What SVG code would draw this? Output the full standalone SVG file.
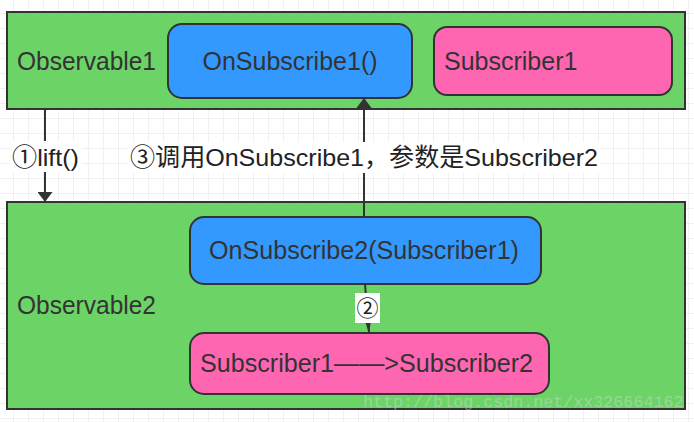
<svg xmlns="http://www.w3.org/2000/svg" width="694" height="422" viewBox="0 0 694 422">
  <defs>
    <pattern id="grid" x="-1" y="-1" width="15" height="15" patternUnits="userSpaceOnUse">
      <path d="M15 0 V15 M0 15 H15" fill="none" stroke="#e3e3e3" stroke-width="1"/>
    </pattern>
    <marker id="arrowBig" viewBox="0 0 10 15" refX="10" refY="7.5" markerWidth="10" markerHeight="15" markerUnits="userSpaceOnUse" orient="auto">
      <path d="M0 0 L10 7.5 L0 15 Z" fill="#333333"/>
    </marker>
    <marker id="arrowSmall" viewBox="0 0 12 6" refX="12" refY="3" markerWidth="12" markerHeight="6" markerUnits="userSpaceOnUse" orient="auto">
      <path d="M0 0 L12 3 L0 6 Z" fill="#333333"/>
    </marker>
  </defs>
  <style>
    .container { fill: #6cd466; stroke: #333333; stroke-width: 2; }
    .blue { fill: #3399ff; stroke: #333333; stroke-width: 2; }
    .pink { fill: #ff66b2; stroke: #333333; stroke-width: 2; }
    .t { font-family: "Liberation Sans", Arial, "Noto Sans CJK SC", sans-serif; font-size: 25px; fill: #333333; }
    .cjk { font-family: "Liberation Sans", Arial, "Noto Sans CJK SC", sans-serif; font-size: 24.5px; fill: #222222; }
    .conn { fill: none; stroke: #333333; stroke-width: 2; }
    .lblbg { fill: #ffffff; }
    .wm { font-family: "Liberation Mono", "Courier New", monospace; font-size: 16.7px; fill: #d8d8d8; fill-opacity: 0.45; }
  </style>
  <rect x="0" y="0" width="694" height="422" fill="#ffffff"/>
  <rect x="0" y="0" width="694" height="422" fill="url(#grid)"/>

  <g id="observable1">
    <rect class="container" x="7" y="12" width="678" height="97"/>
    <text class="t" x="17" y="70" textLength="139" lengthAdjust="spacingAndGlyphs">Observable1</text>
  </g>
  <g id="onsubscribe1">
    <rect class="blue" x="168" y="24" width="244" height="74" rx="14" ry="14"/>
    <text class="t" x="290" y="70" text-anchor="middle">OnSubscribe1()</text>
  </g>
  <g id="subscriber1">
    <rect class="pink" x="434" y="27" width="238" height="68" rx="13" ry="13"/>
    <text class="t" x="444" y="70">Subscriber1</text>
  </g>

  <g id="observable2">
    <rect class="container" x="7" y="202" width="678" height="207"/>
    <text class="t" x="17" y="314" textLength="139" lengthAdjust="spacingAndGlyphs">Observable2</text>
  </g>
  <g id="onsubscribe2">
    <rect class="blue" x="190" y="217" width="351" height="67" rx="14" ry="14"/>
    <text class="t" x="364" y="259" text-anchor="middle" textLength="310" lengthAdjust="spacingAndGlyphs">OnSubscribe2(Subscriber1)</text>
  </g>
  <g id="subscriber1to2">
    <rect class="pink" x="190" y="333" width="359" height="61" rx="14" ry="14"/>
    <text class="t" x="366.5" y="372" text-anchor="middle" textLength="333" lengthAdjust="spacingAndGlyphs">Subscriber1——&gt;Subscriber2</text>
  </g>

  <g id="connectors">
    <g id="edge-lift">
      <line class="conn" x1="45" y1="109" x2="45" y2="202" marker-end="url(#arrowBig)"/>
      <rect class="lblbg" x="10" y="141" width="72" height="31"/>
      <text class="cjk" x="12" y="166" textLength="67" lengthAdjust="spacingAndGlyphs">①lift()</text>
    </g>
    <g id="edge-call">
      <line class="conn" x1="364" y1="217" x2="364" y2="98" marker-end="url(#arrowBig)"/>
      <rect class="lblbg" x="128" y="142" width="472" height="31"/>
      <text class="cjk" x="364" y="166" text-anchor="middle" textLength="468" lengthAdjust="spacingAndGlyphs">③调用OnSubscribe1，参数是Subscriber2</text>
    </g>
    <g id="edge-2">
      <line class="conn" x1="365" y1="284" x2="369" y2="333" marker-end="url(#arrowSmall)"/>
      <rect class="lblbg" x="355" y="293" width="25" height="30"/>
      <text x="367.5" y="316" text-anchor="middle" style="font-family: 'Noto Sans CJK SC', 'DejaVu Serif', serif; font-size: 22px; fill: #222222;">②</text>
    </g>
  </g>

  <text class="wm" x="363" y="407">http://blog.csdn.net/xx326664162</text>
</svg>
